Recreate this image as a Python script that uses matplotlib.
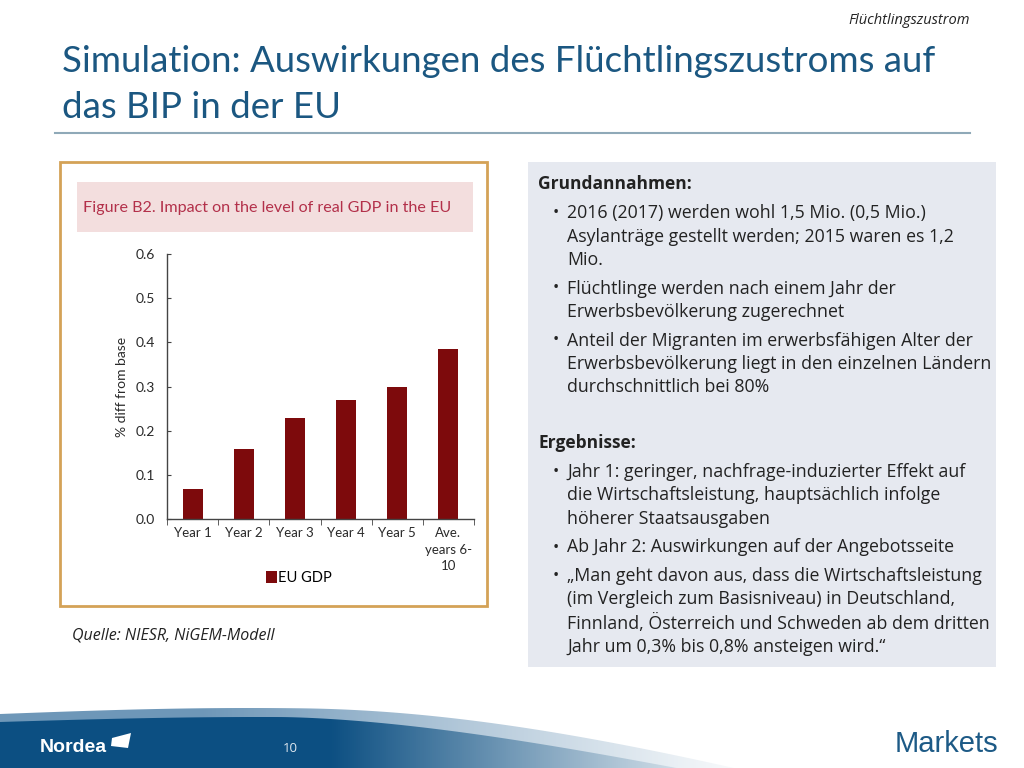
import numpy as np
import matplotlib
matplotlib.use("Agg")
import matplotlib.pyplot as plt
from matplotlib.patches import Rectangle, Polygon

# ---------------- data ----------------
categories = ["Year 1", "Year 2", "Year 3", "Year 4", "Year 5", "Ave.\nyears 6-\n10"]
eu_gdp = [0.067, 0.158, 0.229, 0.269, 0.300, 0.385]
yticks = [0.0, 0.1, 0.2, 0.3, 0.4, 0.5, 0.6]
ytick_labels = ["0.0", "0.1", "0.2", "0.3", "0.4", "0.5", "0.6"]

title_lines = ["Simulation: Auswirkungen des Flüchtlingszustroms auf", "das BIP in der EU"]
chart_title = "Figure B2. Impact on the level of real GDP in the EU"
series_name = "EU GDP"
y_label = "% diff from base"
source = "Quelle: NIESR, NiGEM-Modell"
header_tag = "Flüchtlingszustrom"

box_sections = [
    ("Grundannahmen:", [
        ["2016 (2017) werden wohl 1,5 Mio. (0,5 Mio.)",
         "Asylanträge gestellt werden; 2015 waren es 1,2",
         "Mio."],
        ["Flüchtlinge werden nach einem Jahr der",
         "Erwerbsbevölkerung zugerechnet"],
        ["Anteil der Migranten im erwerbsfähigen Alter der",
         "Erwerbsbevölkerung liegt in den einzelnen Ländern",
         "durchschnittlich bei 80%"],
    ]),
    ("Ergebnisse:", [
        ["Jahr 1: geringer, nachfrage-induzierter Effekt auf",
         "die Wirtschaftsleistung, hauptsächlich infolge",
         "höherer Staatsausgaben"],
        ["Ab Jahr 2: Auswirkungen auf der Angebotsseite"],
        ["„Man geht davon aus, dass die Wirtschaftsleistung",
         "(im Vergleich zum Basisniveau) in Deutschland,",
         "Finnland, Österreich und Schweden ab dem dritten",
         "Jahr um 0,3% bis 0,8% ansteigen wird.“"],
    ]),
]

W, H = 1024, 768
fig = plt.figure(figsize=(W / 100, H / 100), dpi=100)
fig.patch.set_facecolor("white")

bg = fig.add_axes([0, 0, 1, 1])
bg.set_xlim(0, W)
bg.set_ylim(H, 0)
bg.axis("off")

SANS = ["Lato", "DejaVu Sans"]
BODY = ["Open Sans", "DejaVu Sans"]
ARIAL = ["Liberation Sans", "DejaVu Sans"]

# header tag
bg.text(970, 21, header_tag, ha="right", va="center", fontsize=10.5, style="italic",
        family=BODY, color="#222222")

# title
title_color = "#1b5781"
bg.text(62, 62, title_lines[0], ha="left", va="center", fontsize=26.4, family=SANS, color=title_color)
bg.text(62, 108, title_lines[1], ha="left", va="center", fontsize=26.4, family=SANS, color=title_color)
bg.plot([55, 970], [133, 133], color="#8fa9b8", lw=1.5)

# chart frame
bg.add_patch(Rectangle((60, 162), 427, 444, fill=False, ec="#d4a257", lw=2))
bg.add_patch(Rectangle((77, 182), 396, 50, fc="#f3dede", ec="none"))
bg.text(83, 208, chart_title, ha="left", va="center", fontsize=11.6, family=SANS, color="#b3304a")

# right box
bg.add_patch(Rectangle((528, 162), 468, 505, fc="#e6e9f0", ec="none"))
y = 184
for head, bullets in box_sections:
    bg.text(538, y, head, ha="left", va="center", fontsize=12.5, fontweight="bold",
            family=BODY, color="#222222")
    y += 29
    for lines in bullets:
        bg.text(553, y, "•", ha="left", va="center", fontsize=12, family=BODY, color="#222222")
        for ln in lines:
            bg.text(567, y, ln, ha="left", va="center", fontsize=12.75, family=BODY, color="#222222")
            y += 23.5
        y += 5
    y += 27

# source
bg.text(72, 635, source, ha="left", va="center", fontsize=11.5, style="italic", family=BODY, color="#222222")

# footer wave
xs = np.linspace(0, 760, 200)
top_light = 714 - 6 * np.sin(np.pi * xs / 500) + 54 * np.clip((xs - 300) / 460, 0, 1) ** 2
xs2 = np.linspace(0, 700, 200)
top_dark = 722 - 5 * np.sin(np.pi * xs2 / 520) + 46 * np.clip((xs2 - 280) / 420, 0, 1) ** 1.6
grad_x = np.linspace(0, W, 512)
t = np.clip((grad_x - 330) / (760 - 330), 0, 1)
c0 = np.array([0x0c, 0x4f, 0x82]) / 255
c1 = np.array([1.0, 1.0, 1.0])
row = (1 - t)[:, None] * c0 + t[:, None] * c1
img = np.tile(row[None, :, :], (10, 1, 1))

light_poly = np.vstack([np.column_stack([xs, top_light]), [[760, H], [0, H]]])
lp = Polygon(light_poly, closed=True, fc="none", ec="none")
bg.add_patch(lp)
t2 = np.clip((grad_x - 200) / (760 - 200), 0, 1)
lc0 = np.array([0x6e, 0x97, 0xb8]) / 255
row2 = (1 - t2)[:, None] * lc0 + t2[:, None] * c1
img2 = np.tile(row2[None, :, :], (10, 1, 1))
im2 = bg.imshow(img2, extent=(0, W, H, 700), aspect="auto", zorder=1)
im2.set_clip_path(lp)

dark_poly = np.vstack([np.column_stack([xs2, top_dark]), [[700, H], [0, H]]])
dp = Polygon(dark_poly, closed=True, fc="none", ec="none")
bg.add_patch(dp)
im = bg.imshow(img, extent=(0, W, H, 700), aspect="auto", zorder=2)
im.set_clip_path(dp)
bg.set_xlim(0, W)
bg.set_ylim(H, 0)

bg.text(40, 748, "Nordea", ha="left", va="center", fontsize=14, fontweight="bold",
        family=ARIAL, color="white", zorder=5)
bg.add_patch(Polygon([[112, 738], [131, 733], [128, 748], [111, 746]], closed=True,
                     fc="white", ec="none", zorder=5))
bg.text(290, 748, "10", ha="center", va="center", fontsize=9.5, family=BODY, color="#dfe8f0", zorder=5)
bg.text(998, 744, "Markets", ha="right", va="center", fontsize=21,
        family=ARIAL, color="#1d5a86", zorder=5)

# ---------------- bar chart ----------------
L, R, T, B = 167, 474, 254, 519
ax = fig.add_axes([L / W, (H - B) / H, (R - L) / W, (B - T) / H])
ax.patch.set_alpha(0)
x = np.arange(len(categories))
ax.bar(x, eu_gdp, width=0.39, color="#7d0a0c", label=series_name)
ax.set_xlim(-0.5, len(categories) - 0.5)
ax.set_ylim(0, 0.6)
ax.set_yticks(yticks)
ax.set_yticklabels(ytick_labels, fontsize=10, family=SANS, color="#2a2a2a")
ax.set_xticks(x)
ax.set_xticklabels(categories, fontsize=9.5, family=SANS, color="#2a2a2a", linespacing=1.45)
ax.set_xticks(np.arange(-0.5, len(categories)), minor=True)
ax.tick_params(axis="x", which="major", length=0, pad=6)
ax.tick_params(axis="x", which="minor", length=4, direction="out", color="#444444")
ax.tick_params(axis="y", length=3, direction="in", color="#444444", pad=9)
for s in ["top", "right"]:
    ax.spines[s].set_visible(False)
for s in ["left", "bottom"]:
    ax.spines[s].set_color("#444444")
    ax.spines[s].set_linewidth(1)
ax.set_ylabel(y_label, fontsize=10, family=SANS, color="#2a2a2a", labelpad=5)
ax.legend(loc="upper left", bbox_to_anchor=(0.3, -0.17), frameon=False,
          handlelength=0.7, handleheight=0.9, handletextpad=0.1, borderpad=0,
          prop={"family": SANS, "size": 10.5})

fig.savefig("out.png", dpi=100)
